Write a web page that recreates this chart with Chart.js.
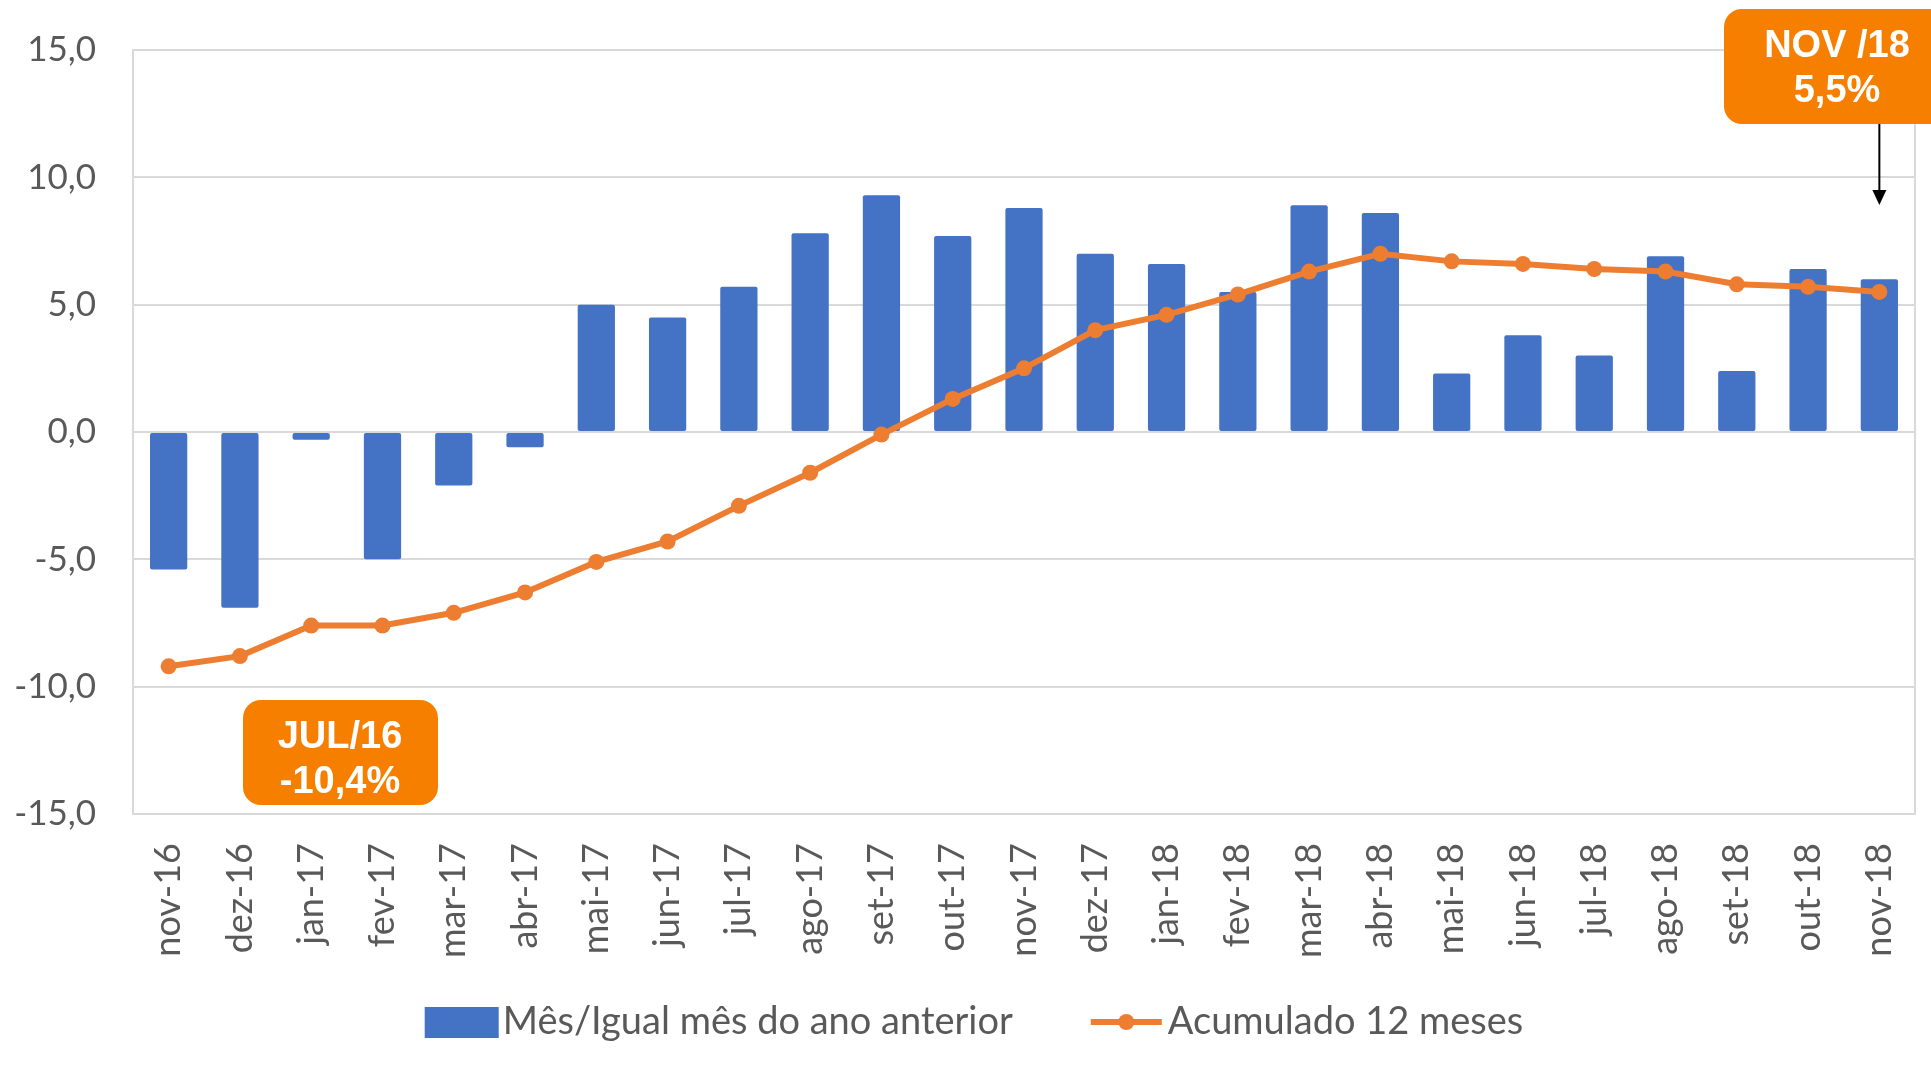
<!DOCTYPE html>
<html lang="pt">
<head>
<meta charset="UTF-8">
<title>Variação mensal e acumulado 12 meses</title>
<script src="https://cdn.jsdelivr.net/npm/chart.js"></script>
<style>
html, body { margin: 0; padding: 0; background: #ffffff; }
#chartBox { width: 1931px; height: 1072px; }
</style>
</head>
<body>
<div id="chartBox"><canvas id="chart"></canvas></div>
<script>
// categorias (eixo x)
const meses = ['nov-16', 'dez-16', 'jan-17', 'fev-17', 'mar-17', 'abr-17', 'mai-17', 'jun-17',
    'jul-17', 'ago-17', 'set-17', 'out-17', 'nov-17', 'dez-17', 'jan-18', 'fev-18', 'mar-18',
    'abr-18', 'mai-18', 'jun-18', 'jul-18', 'ago-18', 'set-18', 'out-18', 'nov-18'];

// Mês / igual mês do ano anterior (%)
const mesAnoAnterior = [-5.4, -6.9, -0.3, -5.0, -2.1, -0.6, 5.0, 4.5, 5.7, 7.8, 9.3, 7.7, 8.8,
    7.0, 6.6, 5.5, 8.9, 8.6, 2.3, 3.8, 3.0, 6.9, 2.4, 6.4, 6.0];

// Acumulado 12 meses (%)
const acumulado12 = [-9.2, -8.8, -7.6, -7.6, -7.1, -6.3, -5.1, -4.3, -2.9, -1.6, -0.1, 1.3, 2.5,
    4.0, 4.6, 5.4, 6.3, 7.0, 6.7, 6.6, 6.4, 6.3, 5.8, 5.7, 5.5];

const yTicks = [-15, -10, -5, 0, 5, 10, 15];

// textos das caixas de destaque
const destaqueFim = ['NOV /18', '5,5%'];
const destaqueInicio = ['JUL/16', '-10,4%'];

const AZUL = '#4472C4';
const LARANJA = '#ED7D31';
const CAIXA = '#F77F00';
const CINZA = '#595959';
const GRADE = '#D9D9D9';

const extras = {
    id: 'extras',
    beforeDatasetsDraw(chart) {
        // moldura da área do gráfico
        const { ctx, chartArea: a } = chart;
        ctx.save();
        ctx.strokeStyle = GRADE;
        ctx.lineWidth = 2;
        ctx.strokeRect(a.left, a.top, a.right - a.left, a.bottom - a.top);
        ctx.restore();
    },
    afterDatasetDraw(chart, args) {
        if (args.index !== 0) return;
        // linha do zero por cima das barras
        const { ctx, chartArea: a } = chart;
        const y0 = chart.scales.y.getPixelForValue(0);
        ctx.save();
        ctx.strokeStyle = GRADE;
        ctx.lineWidth = 2;
        ctx.beginPath();
        ctx.moveTo(a.left, y0);
        ctx.lineTo(a.right, y0);
        ctx.stroke();
        ctx.restore();
    },
    afterDraw(chart) {
        const { ctx } = chart;
        ctx.save();

        // caixas laranja
        function caixa(x, y, w, h, linhas, cx, ys) {
            ctx.fillStyle = CAIXA;
            ctx.beginPath();
            ctx.roundRect(x, y, w, h, 18);
            ctx.fill();
            ctx.fillStyle = '#ffffff';
            ctx.font = 'bold 38px "Liberation Sans", Arial, sans-serif';
            ctx.textAlign = 'center';
            ctx.textBaseline = 'middle';
            ctx.fillText(linhas[0], cx, ys[0]);
            ctx.fillText(linhas[1], cx, ys[1]);
        }
        caixa(1724, 9, 240, 115, destaqueFim, 1837, [47, 92]);
        caixa(243, 700, 195, 105, destaqueInicio, 340, [738, 783]);

        // seta para nov-18
        const xs = chart.scales.x.getPixelForValue(meses.length - 1);
        ctx.strokeStyle = '#000000';
        ctx.fillStyle = '#000000';
        ctx.lineWidth = 2;
        ctx.beginPath();
        ctx.moveTo(xs, 124);
        ctx.lineTo(xs, 195);
        ctx.stroke();
        ctx.beginPath();
        ctx.moveTo(xs - 7, 190);
        ctx.lineTo(xs + 7, 190);
        ctx.lineTo(xs, 205);
        ctx.closePath();
        ctx.fill();

        // legenda
        const ds = chart.data.datasets;
        ctx.font = '38px Lato, sans-serif';
        ctx.textAlign = 'left';
        ctx.textBaseline = 'middle';
        const w1 = ctx.measureText(ds[0].label).width;
        const w2 = ctx.measureText(ds[1].label).width;
        const total = 74 + 4 + w1 + 78 + 71 + 6 + w2;
        let x = 974 - total / 2;
        const yl = 1022;
        ctx.fillStyle = ds[0].backgroundColor;
        ctx.fillRect(x, yl - 15, 74, 31);
        x += 78;
        ctx.fillStyle = CINZA;
        ctx.fillText(ds[0].label, x, yl);
        x += w1 + 78;
        ctx.strokeStyle = ds[1].borderColor;
        ctx.lineWidth = 6;
        ctx.beginPath();
        ctx.moveTo(x, yl);
        ctx.lineTo(x + 71, yl);
        ctx.stroke();
        ctx.fillStyle = ds[1].borderColor;
        ctx.beginPath();
        ctx.arc(x + 35.5, yl, 8, 0, Math.PI * 2);
        ctx.fill();
        x += 77;
        ctx.fillStyle = CINZA;
        ctx.fillText(ds[1].label, x, yl);

        ctx.restore();
    }
};

const ctx = document.getElementById('chart').getContext('2d');
new Chart(ctx, {
    data: {
        labels: meses,
        datasets: [{
            type: 'bar',
            label: 'Mês/Igual mês do ano anterior',
            data: mesAnoAnterior,
            backgroundColor: AZUL,
            borderColor: AZUL,
            barPercentage: 0.55,
            categoryPercentage: 0.95,
            borderRadius: 2,
            borderSkipped: false,
            order: 2
        }, {
            type: 'line',
            label: 'Acumulado 12 meses',
            data: acumulado12,
            borderColor: LARANJA,
            backgroundColor: LARANJA,
            borderWidth: 6,
            pointRadius: 8,
            pointBackgroundColor: LARANJA,
            pointBorderWidth: 0,
            fill: false,
            tension: 0,
            order: 1
        }]
    },
    options: {
        responsive: true,
        maintainAspectRatio: false,
        animation: false,
        layout: { padding: { top: 50, right: 16, left: 0, bottom: 0 } },
        plugins: {
            legend: { display: false },
            tooltip: { enabled: false }
        },
        scales: {
            x: {
                grid: { display: false, drawTicks: false },
                border: { display: false },
                ticks: {
                    color: CINZA,
                    font: { family: 'Lato', size: 36 },
                    minRotation: 90,
                    maxRotation: 90,
                    autoSkip: false,
                    padding: 29
                },
                afterFit: s => {
                    s.height = 258;
                    s.paddingLeft = 0;
                    s.paddingRight = 0;
                }
            },
            y: {
                min: -15,
                max: 15,
                grid: { color: GRADE, lineWidth: 2, drawTicks: false },
                border: { display: false },
                ticks: {
                    color: CINZA,
                    font: { family: 'Lato', size: 35 },
                    padding: 37,
                    callback: v => v.toFixed(1).replace('.', ',')
                },
                afterBuildTicks: s => { s.ticks = yTicks.map(v => ({ value: v })); },
                afterFit: s => {
                    s.width = 133;
                    s.paddingTop = 0;
                    s.paddingBottom = 0;
                }
            }
        }
    },
    plugins: [extras]
});
</script>
</body>
</html>
